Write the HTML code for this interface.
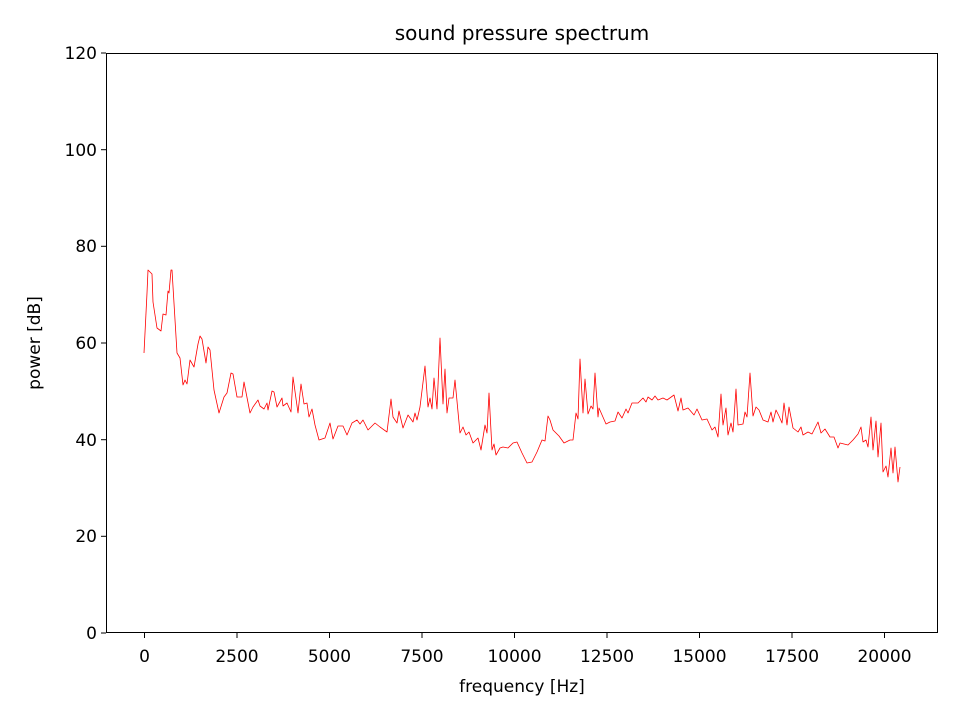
<!DOCTYPE html>
<html><head><meta charset="utf-8"><style>body{margin:0;background:#fff}svg{display:block}text{font-family:"DejaVu Sans","Liberation Sans",sans-serif;fill:#000}</style></head>
<body>
<svg width="960" height="720" viewBox="0 0 960 720" xmlns="http://www.w3.org/2000/svg">
<rect width="960" height="720" fill="#fff"/>
<polyline fill="none" stroke="#ff0000" stroke-width="0.8" stroke-linejoin="round" points="144,353 147,293 148,270 152,274 153,302 157,328 161,331 163,314 166,315 168,291 169,293 171,270 172,270 177,353 180,358 183,385 185,380 187,384 190,360 194,367 198,344 200,336 202,339 206,363 208,347 210,350 214,390 219,413 224,397 227,393 231,373 233,374 237,397 242,397 244,382 250,413 253,407 258,400 260,406 264,409 267,403 268,410 272,391 274,392 277,407 282,398 283,406 287,403 291,412 293,377 298,413 301,384 304,404 307,403 309,417 312,409 315,425 319,440 325,438 330,423 333,439 338,426 343,426 347,435 352,423 357,420 360,424 363,420 368,430 375,423 380,427 387,432 391,399 393,417 397,423 399,411 403,428 408,415 413,422 415,413 417,420 420,407 425,366 428,407 430,398 432,409 434,378 437,409 440,338 443,404 445,369 447,413 449,398 453,398 455,380 460,433 463,427 466,435 469,432 473,443 478,438 481,450 485,425 487,433 489,393 492,450 494,444 496,455 500,448 503,447 508,448 513,443 517,442 522,453 527,463 532,462 537,452 542,440 545,441 548,416 550,420 553,430 559,436 564,443 570,440 573,440 576,413 578,419 580,359 583,413 585,379 588,414 591,406 593,409 595,373 598,417 599,408 606,424 610,422 615,421 618,412 622,418 626,409 628,413 632,403 638,403 643,398 646,402 648,397 652,400 655,396 658,400 663,398 667,400 674,395 678,411 681,398 683,410 688,408 694,415 697,409 702,420 707,419 712,430 715,427 718,437 721,394 723,425 726,408 728,435 731,423 733,432 736,389 738,425 743,424 745,412 747,417 750,373 753,416 756,407 759,410 763,420 768,422 771,412 773,422 776,410 779,416 782,423 784,403 787,425 789,407 793,428 798,432 801,427 803,435 808,432 812,434 818,422 821,433 825,429 830,437 834,437 838,448 840,443 848,445 853,440 858,434 861,427 863,442 866,440 868,447 871,417 873,450 876,421 878,457 881,423 883,472 886,466 888,477 891,448 893,473 895,447 898,482 900,467"/>
<rect x="106.5" y="53.5" width="831" height="579" fill="none" stroke="#000" stroke-width="1"/>
<g stroke="#000" stroke-width="1">
<line x1="106" y1="633" x2="101" y2="633"/><line x1="106" y1="536.3" x2="101" y2="536.3"/><line x1="106" y1="439.7" x2="101" y2="439.7"/><line x1="106" y1="343" x2="101" y2="343"/><line x1="106" y1="246.3" x2="101" y2="246.3"/><line x1="106" y1="149.7" x2="101" y2="149.7"/><line x1="106" y1="53" x2="101" y2="53"/>
<line x1="144.5" y1="633" x2="144.5" y2="638"/><line x1="237" y1="633" x2="237" y2="638"/><line x1="329.5" y1="633" x2="329.5" y2="638"/><line x1="422" y1="633" x2="422" y2="638"/><line x1="514.5" y1="633" x2="514.5" y2="638"/><line x1="607" y1="633" x2="607" y2="638"/><line x1="699.5" y1="633" x2="699.5" y2="638"/><line x1="792" y1="633" x2="792" y2="638"/><line x1="884.5" y1="633" x2="884.5" y2="638"/>
</g>
<g font-size="17" text-anchor="end">
<text x="97" y="639">0</text><text x="97" y="542">20</text><text x="97" y="446">40</text><text x="97" y="349">60</text><text x="97" y="252">80</text><text x="97" y="156">100</text><text x="97" y="59">120</text>
</g>
<g font-size="17" text-anchor="middle">
<text x="144.5" y="662">0</text><text x="237" y="662">2500</text><text x="329.5" y="662">5000</text><text x="422" y="662">7500</text><text x="514.5" y="662">10000</text><text x="607" y="662">12500</text><text x="699.5" y="662">15000</text><text x="792" y="662">17500</text><text x="884.5" y="662">20000</text>
<text x="522" y="692">frequency [Hz]</text>
<text x="522" y="40" font-size="20">sound pressure spectrum</text>
<text transform="translate(40,343) rotate(-90)">power [dB]</text>
</g>
</svg>
</body></html>
